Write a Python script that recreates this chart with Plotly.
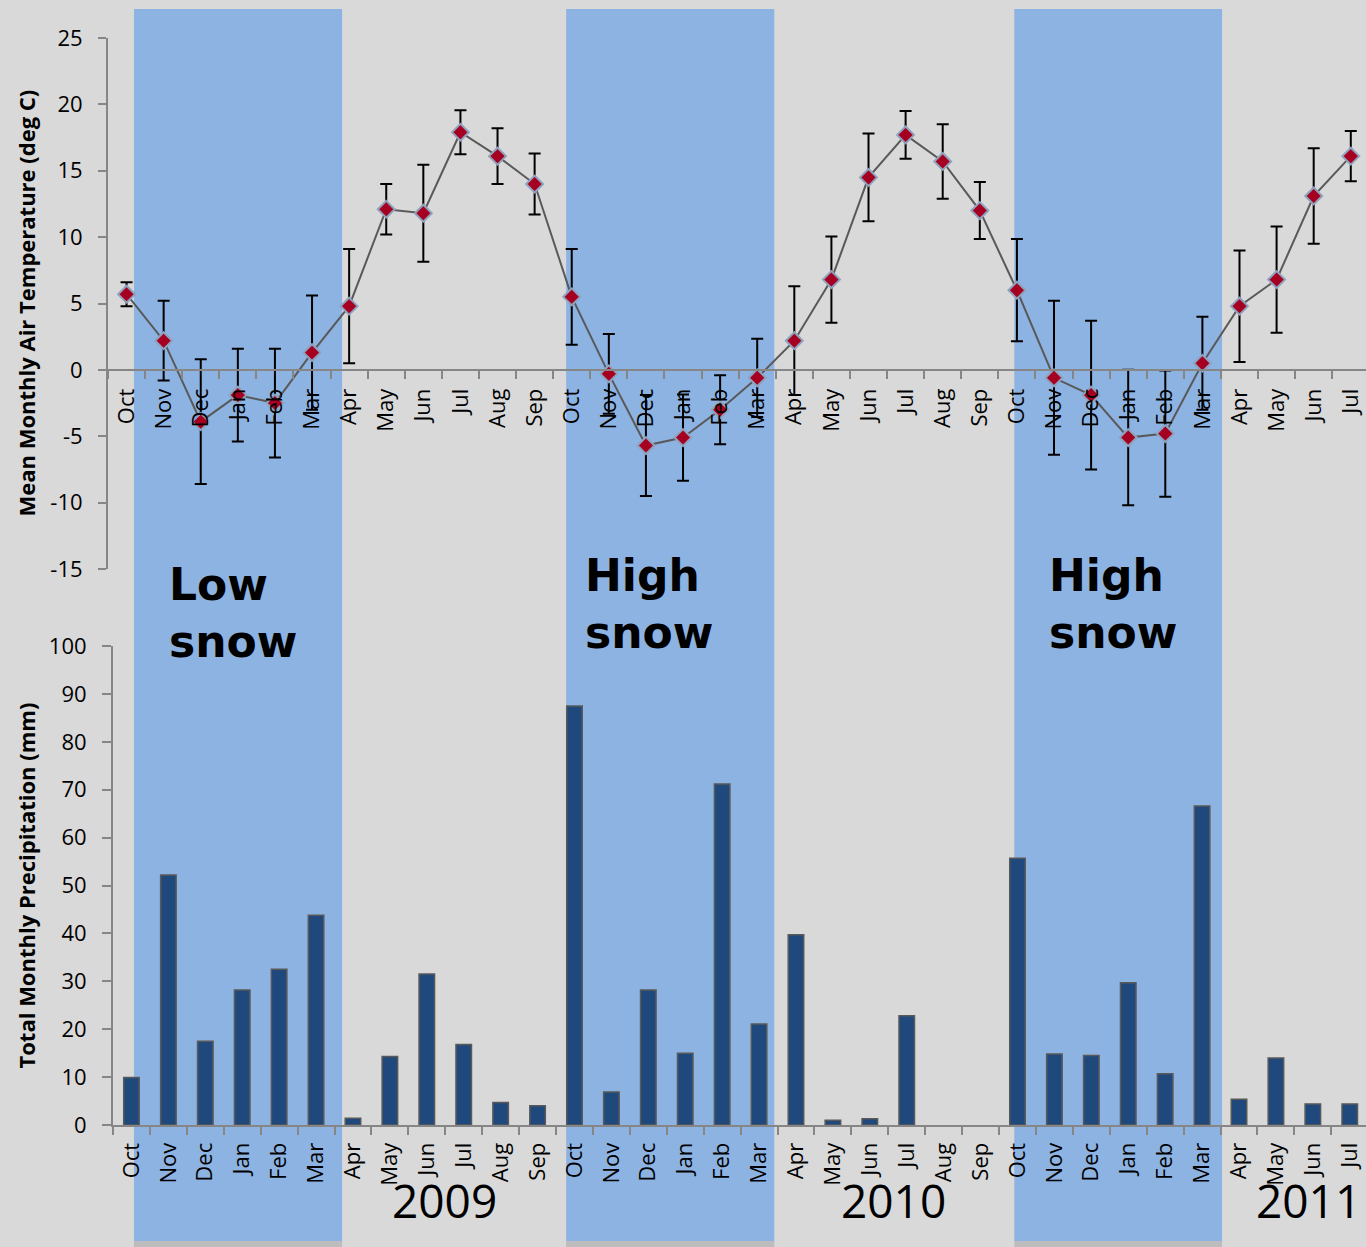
import plotly.graph_objects as go

W, H = 1366, 1247

# Months from Oct 2008 through Jul 2011
months = ["Oct", "Nov", "Dec", "Jan", "Feb", "Mar", "Apr", "May", "Jun", "Jul", "Aug", "Sep",
          "Oct", "Nov", "Dec", "Jan", "Feb", "Mar", "Apr", "May", "Jun", "Jul", "Aug", "Sep",
          "Oct", "Nov", "Dec", "Jan", "Feb", "Mar", "Apr", "May", "Jun", "Jul"]

# Mean monthly air temperature (deg C) and its spread
temp_mean = [5.7, 2.2, -3.9, -1.9, -2.5, 1.3, 4.8, 12.1, 11.8, 17.9, 16.1, 14.0,
             5.5, -0.3, -5.7, -5.1, -3.0, -0.6, 2.2, 6.8, 14.5, 17.7, 15.7, 12.0,
             6.0, -0.6, -1.9, -5.1, -4.8, 0.5, 4.8, 6.8, 13.1, 16.1]
temp_err = [0.9, 3.0, 4.7, 3.5, 4.1, 4.3, 4.3, 1.9, 3.65, 1.65, 2.1, 2.3,
            3.6, 3.0, 3.8, 3.25, 2.6, 2.95, 4.1, 3.25, 3.3, 1.8, 2.8, 2.15,
            3.85, 5.8, 5.6, 5.1, 4.75, 3.5, 4.2, 4.0, 3.6, 1.9]

# Total monthly precipitation (mm)
precip = [9.9, 52.2, 17.5, 28.2, 32.5, 43.8, 1.4, 14.3, 31.5, 16.8, 4.7, 4.0,
          87.5, 6.9, 28.2, 15.0, 71.2, 21.1, 39.7, 1.0, 1.3, 22.8, 0, 0,
          55.7, 14.8, 14.5, 29.7, 10.7, 66.6, 5.4, 14.0, 4.4, 4.4]

# Axis tick values
temp_ticks = [-15, -10, -5, 0, 5, 10, 15, 20, 25]
precip_ticks = [0, 10, 20, 30, 40, 50, 60, 70, 80, 90, 100]

# Winter snow seasons (start/end in month-index units) and their labels
season_start = [0.2, 11.85, 23.93]
season_end = [5.81, 17.46, 29.53]
season_label = ["Low<br>snow", "High<br>snow", "High<br>snow"]
season_text_x = [1.09, 12.31, 24.82]

# Year labels placed under the month axis
year_labels = ["2009", "2010", "2011"]
year_pos = [8.49, 20.63, 31.87]

x = list(range(len(months)))

BG = "#d9d9d9"
BAND = "#8db3e2"
AXIS = "#868686"
FONT = "Open Sans"

# Plot-area placement (pixels)
top_y_px = (38, 569)      # y=25 .. y=-15
bot_y_px = (646, 1125)    # y=100 .. y=0
top_x_px = 108
bot_x_px = 113


def py(p):
    return 1 - p / H


top_dom = [py(top_y_px[1]), py(top_y_px[0])]
bot_dom = [py(bot_y_px[1]), py(bot_y_px[0])]
t_range = [temp_ticks[0], temp_ticks[-1]]
zero_pos = top_dom[0] + (0 - t_range[0]) / (t_range[1] - t_range[0]) * (top_dom[1] - top_dom[0])

fig = go.Figure()

fig.add_trace(go.Scatter(
    x=x, y=temp_mean, mode="lines+markers",
    line=dict(color="#595959", width=2),
    marker=dict(symbol="diamond", size=13, color="#a50021",
                line=dict(color="#8fa2bd", width=2)),
    error_y=dict(type="data", array=temp_err, visible=True,
                 color="black", thickness=2, width=6),
    xaxis="x", yaxis="y", showlegend=False, cliponaxis=False,
))

fig.add_trace(go.Bar(
    x=x, y=precip, width=0.42,
    marker=dict(color="#1f497d",
                line=dict(color="#595959", width=[1.5 if v > 0 else 0 for v in precip])),
    xaxis="x2", yaxis="y2", showlegend=False,
))

minor_ticks = dict(tickmode="array", tickvals=[i - 0.5 for i in range(len(months) + 1)],
                   ticks="outside", ticklen=8, tickwidth=2, tickcolor=AXIS)

fig.update_layout(
    width=W, height=H,
    margin=dict(l=0, r=0, t=0, b=0, pad=0),
    paper_bgcolor=BG, plot_bgcolor="rgba(0,0,0,0)",
    font=dict(family=FONT, color="black"),
    xaxis=dict(domain=[top_x_px / W, 1], range=[-0.5, 33.41],
               anchor="free", position=zero_pos, automargin=False,
               tickmode="array", tickvals=x, ticktext=months, tickangle=-90,
               ticks="", minor=minor_ticks, ticklabelstandoff=9,
               showline=True, linecolor=AXIS, linewidth=2,
               showgrid=False, zeroline=False, tickfont=dict(size=22)),
    yaxis=dict(domain=top_dom, range=t_range, anchor="x", automargin=False,
               tickmode="array", tickvals=temp_ticks, ticktext=[str(v) for v in temp_ticks],
               ticks="outside", ticklen=8, tickwidth=2, tickcolor=AXIS,
               showline=True, linecolor=AXIS, linewidth=2,
               showgrid=False, zeroline=False, ticklabelstandoff=11,
               tickfont=dict(size=22)),
    xaxis2=dict(domain=[bot_x_px / W, 1], range=[-0.5, 33.44], anchor="y2",
                automargin=False,
                tickmode="array", tickvals=x, ticktext=months, tickangle=-90,
                ticks="", minor=minor_ticks, ticklabelstandoff=7,
                showline=True, linecolor=AXIS, linewidth=2,
                showgrid=False, zeroline=False, tickfont=dict(size=22)),
    yaxis2=dict(domain=bot_dom, range=[precip_ticks[0], precip_ticks[-1]], anchor="x2",
                automargin=False,
                tickmode="array", tickvals=precip_ticks, ticktext=[str(v) for v in precip_ticks],
                ticks="outside", ticklen=9, tickwidth=2, tickcolor=AXIS,
                showline=True, linecolor=AXIS, linewidth=2,
                showgrid=False, zeroline=False, ticklabelstandoff=11,
                tickfont=dict(size=22)),
    bargap=0.58,
)

# Snow-season shading spanning the full height, with a soft base strip
for s0, s1 in zip(season_start, season_end):
    fig.add_shape(type="rect", xref="x", yref="paper", x0=s0, x1=s1,
                  y0=6 / H, y1=1 - 9 / H, fillcolor=BAND, line=dict(width=0), layer="below")
    fig.add_shape(type="rect", xref="x", yref="paper", x0=s0, x1=s1,
                  y0=0, y1=6 / H, fillcolor="#bdbdbd", line=dict(width=0), layer="below")

season_y = [py(557), py(548), py(548)]
for sx, sy, lab in zip(season_text_x, season_y, season_label):
    fig.add_annotation(x=sx, y=sy, xref="x", yref="paper", text="<b>" + lab + "</b>",
                       showarrow=False, xanchor="left", yanchor="top", align="left",
                       font=dict(family="DejaVu Sans", size=44, color="black"))

for yl, yp in zip(year_labels, year_pos):
    fig.add_annotation(x=yp, y=py(1200), xref="x2", yref="paper", text=yl,
                       showarrow=False, xanchor="center", yanchor="middle",
                       font=dict(family=FONT, size=46, color="black"))

# Axis titles
fig.add_annotation(x=25 / W, y=(top_dom[0] + top_dom[1]) / 2, xref="paper", yref="paper",
                   text="<b>Mean Monthly Air Temperature (deg C)</b>", textangle=-90,
                   showarrow=False, xanchor="center", yanchor="middle",
                   font=dict(family=FONT, size=22, color="black"))
fig.add_annotation(x=25 / W, y=(bot_dom[0] + bot_dom[1]) / 2, xref="paper", yref="paper",
                   text="<b>Total Monthly Precipitation (mm)</b>", textangle=-90,
                   showarrow=False, xanchor="center", yanchor="middle",
                   font=dict(family=FONT, size=22, color="black"))

fig.write_html("out.html")
